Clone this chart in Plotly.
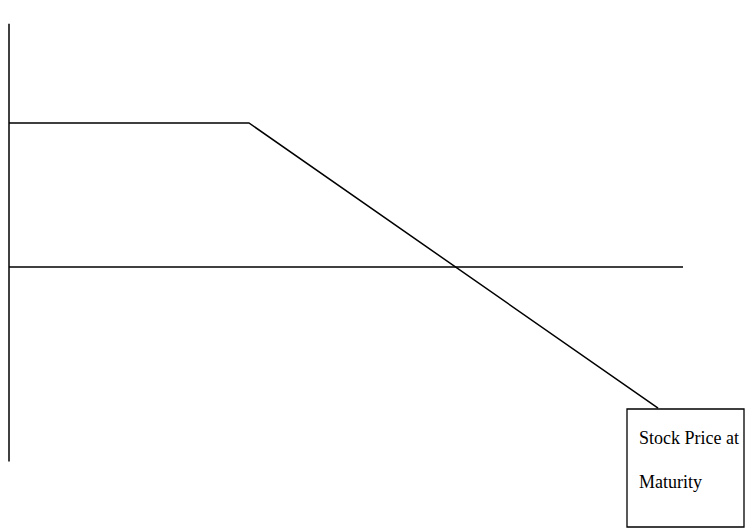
import plotly.graph_objects as go

# Data (abstract units: stock price on x, profit on y)
price = [0, 35.6, 96.3]
profit = [10, 10, -9.8]
axis_x_end = 100
axis_y_top = 16.9
axis_y_bottom = -13.5
box_text = ["Stock Price at", "Maturity"]

OFF = 8  # page body margin
W, H = 754 - OFF, 531 - OFF
px_x = 6.74   # pixels per x unit
px_y = 14.4   # pixels per y unit
x0_px, y0_px = 9 - OFF, 267 - OFF

fig = go.Figure()
line_style = dict(color="black", width=1.5)
fig.add_trace(go.Scatter(x=[0, 0], y=[axis_y_bottom, axis_y_top], mode="lines", line=line_style, hoverinfo="skip"))
fig.add_trace(go.Scatter(x=[0, axis_x_end], y=[0, 0], mode="lines", line=line_style, hoverinfo="skip"))
fig.add_trace(go.Scatter(x=price, y=profit, mode="lines", line=line_style, hoverinfo="skip"))

def dx(p):  # screen pixel -> data
    return (p - OFF - x0_px) / px_x

def dy(p):
    return (y0_px - (p - OFF)) / px_y

fig.add_shape(type="rect", x0=dx(627), x1=dx(744), y0=dy(409), y1=dy(527),
              line=dict(color="black", width=1.3), fillcolor="white", layer="above")
for i, t in enumerate(box_text):
    fig.add_annotation(x=dx(637), y=dy(438 + 44 * i), text=t, showarrow=False,
                       xanchor="left", yanchor="middle",
                       font=dict(family="Liberation Serif", size=18, color="black"))

fig.update_layout(
    width=W, height=H, margin=dict(l=0, r=0, t=0, b=0),
    paper_bgcolor="white", plot_bgcolor="white", showlegend=False,
    xaxis=dict(range=[dx(OFF), dx(754)], visible=False),
    yaxis=dict(range=[dy(531), dy(OFF)], visible=False),
)
fig.write_html("out.html")
